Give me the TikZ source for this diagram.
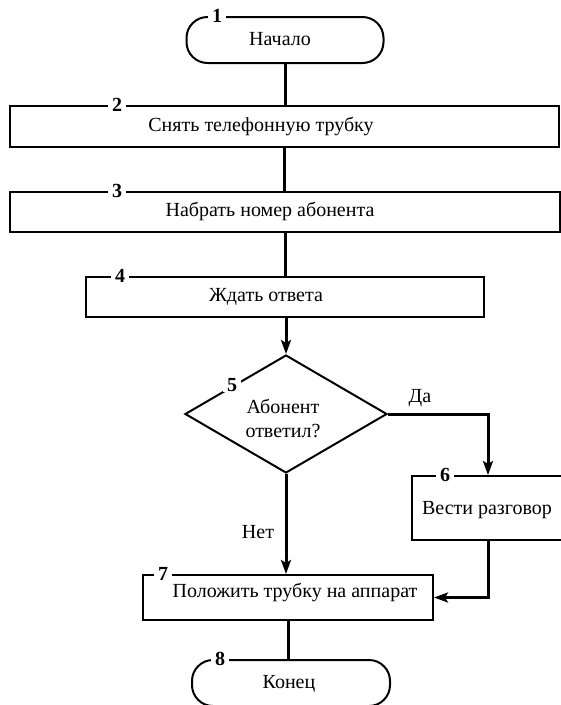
\documentclass[tikz,border=0pt]{standalone}
\usepackage{fontspec}
\setmainfont{Liberation Serif}
\usetikzlibrary{shapes.geometric,arrows.meta}
\begin{document}
\begin{tikzpicture}[x=1pt,y=-1pt,
  lbl/.style={font=\fontsize{20}{24}\selectfont},
  box/.style={draw, line width=2pt, rectangle, inner sep=0pt},
  term/.style={draw, line width=2pt, rounded corners=21pt, inner sep=0pt,
    minimum width=197pt, minimum height=46pt, lbl},
  cond/.style={draw, diamond, line width=2pt, inner sep=0pt,
    minimum width=202pt, minimum height=118pt, align=center, lbl},
  txt/.style={inner sep=0pt, lbl},
  num/.style={fill=white, inner xsep=4pt, inner ysep=0pt,
    font=\fontsize{20}{24}\selectfont\bfseries},
  flow/.style={line width=3pt},
  arr/.style={flow, -{Stealth[length=14pt,width=10pt,inset=3pt]}},
]
\useasboundingbox (0,0) rectangle (561,705);

% blocks
\node[term] (t1) at (285,40) {};
\node[txt] (t1t) at (280,39) {Начало};
\node[box, minimum width=549pt, minimum height=41pt] (b2) at (284.5,126.5) {};
\node[txt] (b2t) at (261,126) {Снять телефонную трубку};
\node[box, minimum width=550pt, minimum height=40pt] (b3) at (285,212) {};
\node[txt] (b3t) at (270,211) {Набрать номер абонента};
\node[box, minimum width=398pt, minimum height=40pt] (b4) at (285,297) {};
\node[txt] (b4t) at (266,297) {Ждать ответа};
\node[cond] (d5) at (286,414) {};
\node[txt, align=center] (d5t) at (283,418) {Абонент\\ответил?};
\node[box, minimum width=152pt, minimum height=64pt] (b6) at (488,508) {};
\node[txt] (b6t) at (487,510) {Вести разговор};
\node[box, minimum width=290pt, minimum height=45pt] (b7) at (288,597.5) {};
\node[txt] (b7t) at (295,592) {Положить трубку на аппарат};
\node[term, minimum width=198pt] (t8) at (291,683) {};
\node[txt] (t8t) at (289,684) {Конец};

% connectors
\draw[flow] (t1.south) -- (t1.south |- b2.north);
\draw[flow] (b2.south) -- (b2.south |- b3.north);
\draw[flow] (b3.south) -- (b3.south |- b4.north);
\draw[arr] (d5.north |- b4.south) -- (d5.north);
\draw[arr] (d5.east) -| (b6.north);
\draw[arr] (d5.south) -- (d5.south |- b7.north);
\draw[arr] (b6.south) |- (b7.east);
\draw[flow] (b7.south) -- (b7.south |- t8.north);

% branch labels
\node[txt] (yes) at (420,398) {Да};
\node[txt] (no) at (258,532) {Нет};

% block numbers
\node[num] (n1) at (217,16) {1};
\node[num] (n2) at (117,105) {2};
\node[num] (n3) at (117,191) {3};
\node[num] (n4) at (120,276) {4};
\node[num] (n5) at (232,385) {5};
\node[num] (n6) at (445,475) {6};
\node[num] (n7) at (163,574) {7};
\node[num] (n8) at (220,659) {8};
\end{tikzpicture}
\end{document}
